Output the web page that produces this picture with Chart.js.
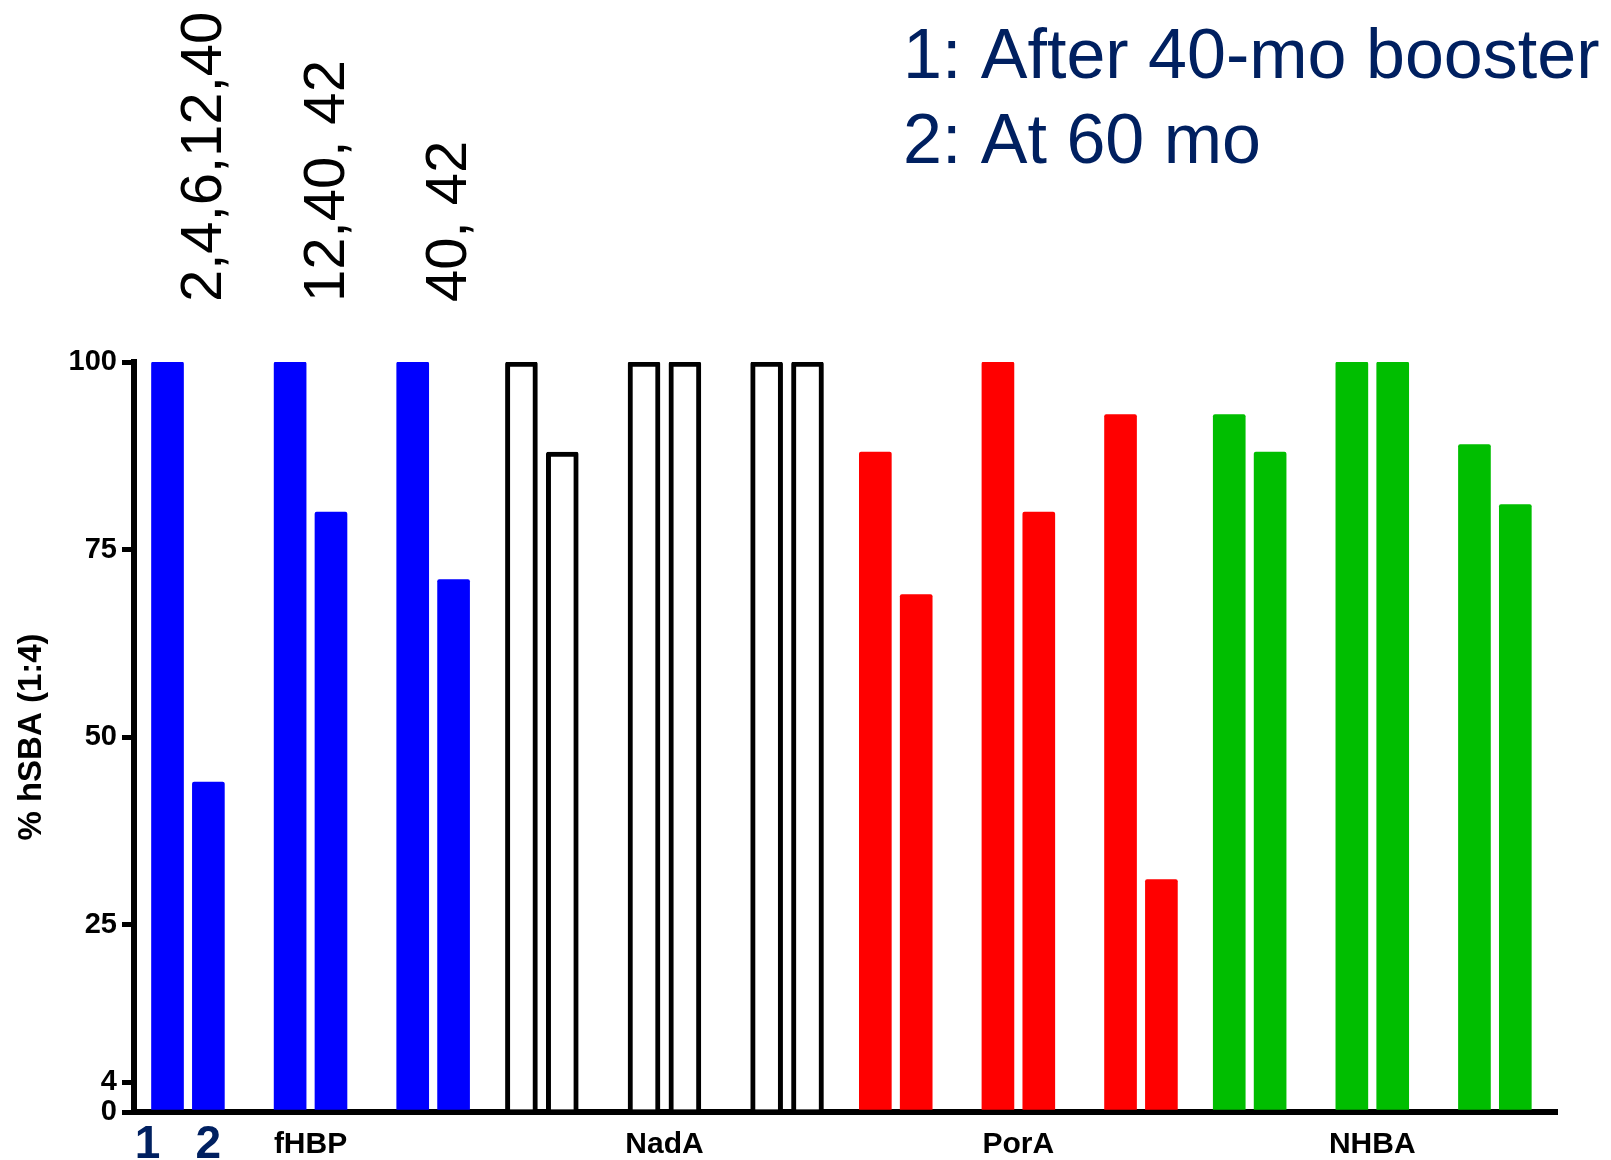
<!DOCTYPE html>
<html>
<head>
<meta charset="utf-8">
<script src="https://cdn.jsdelivr.net/npm/chart.js@4/dist/chart.umd.min.js"></script>
<style>
  html, body { margin: 0; padding: 0; background: #ffffff; }
  canvas { display: block; }
</style>
</head>
<body>
<canvas id="chart" width="1611" height="1160"></canvas>
<script>
// ---- data ----
const antigenLabels = ['fHBP', 'NadA', 'PorA', 'NHBA'];
const timepointLabels = ['1', '2'];
const scheduleLabels = ['2,4,6,12,40', '12,40, 42', '40, 42'];
const legendLines = ['1: After 40-mo booster', '2: At 60 mo'];
const yTickValues = [0, 4, 25, 50, 75, 100];

// % with hSBA titre >= 1:4; pairs of (timepoint 1, timepoint 2) for each schedule
const fhbpPct = [100, 44, 100, 80, 100, 71];
const nadaPct = [100, 88, 100, 100, 100, 100];
const poraPct = [88, 69, 100, 80, 93, 31];
const nhbaPct = [93, 88, 100, 100, 89, 81];

// ---- layout ----
const FONT = "'Liberation Sans', Arial, sans-serif";
const NAVY = '#002060';
const GROUP_STEP = 3;       // distance between schedule groups (in bar pitches)
const ANTIGEN_STEP = 8.66;  // distance between antigen blocks
const X_MIN = -0.82, X_MAX = 34.0;

function barX(a, i) {
  return a * ANTIGEN_STEP + Math.floor(i / 2) * GROUP_STEP + (i % 2);
}
function groupCenter(a, g) {
  return a * ANTIGEN_STEP + g * GROUP_STEP + 0.5;
}

const series = [fhbpPct, nadaPct, poraPct, nhbaPct];
const barStyles = [
  { backgroundColor: '#0000ff', borderWidth: 0 },
  { backgroundColor: '#ffffff', borderColor: '#000000', borderWidth: 5 },
  { backgroundColor: '#ff0000', borderWidth: 0 },
  { backgroundColor: '#00be00', borderWidth: 0 }
];

const datasets = series.map((vals, a) => Object.assign({
  label: antigenLabels[a],
  data: vals.map((v, i) => ({ x: barX(a, i), y: v })),
  grouped: false,
  barThickness: 32,
  borderSkipped: 'start',
  borderRadius: { topLeft: 2, topRight: 2, bottomLeft: 0, bottomRight: 0 }
}, barStyles[a]));

// Text drawn around the plot: timepoint keys, antigen names, schedules, key
const annotations = {
  id: 'annotations',
  afterDraw(chart) {
    const ctx = chart.ctx;
    const xs = chart.scales.x;
    const area = chart.chartArea;
    ctx.save();

    // timepoint keys under the first pair of bars
    ctx.fillStyle = NAVY;
    ctx.font = 'bold 46px ' + FONT;
    ctx.textAlign = 'center';
    ctx.textBaseline = 'alphabetic';
    ctx.fillText(timepointLabels[0], xs.getPixelForValue(barX(0, 0)) - 20, area.bottom + 46);
    ctx.fillText(timepointLabels[1], xs.getPixelForValue(barX(0, 1)), area.bottom + 46);

    // antigen names under the middle schedule of each block
    ctx.fillStyle = '#000000';
    ctx.font = 'bold 30px ' + FONT;
    antigenLabels.forEach((name, a) => {
      ctx.fillText(name, xs.getPixelForValue(groupCenter(a, 1)), area.bottom + 41);
    });

    // vaccination schedules, written vertically above the first block
    ctx.font = '58px ' + FONT;
    ctx.textAlign = 'left';
    ctx.textBaseline = 'middle';
    scheduleLabels.forEach((txt, g) => {
      ctx.save();
      ctx.translate(xs.getPixelForValue(groupCenter(0, g)) + 17, area.top - 60);
      ctx.rotate(-Math.PI / 2);
      ctx.fillText(txt, 0, 0, 300);
      ctx.restore();
    });

    // key in the top right corner
    ctx.fillStyle = NAVY;
    ctx.font = '70px ' + FONT;
    ctx.textAlign = 'left';
    ctx.textBaseline = 'alphabetic';
    ctx.fillText(legendLines[0], 903, 78);
    ctx.fillText(legendLines[1], 903, 163);

    ctx.restore();
  }
};

new Chart(document.getElementById('chart'), {
  type: 'bar',
  data: { datasets },
  options: {
    responsive: false,
    animation: false,
    devicePixelRatio: 1,
    layout: { padding: { left: 0, top: 362, right: 54, bottom: 0 } },
    plugins: {
      legend: { display: false },
      tooltip: { enabled: false }
    },
    scales: {
      x: {
        type: 'linear',
        min: X_MIN,
        max: X_MAX,
        offset: false,
        z: 1,
        ticks: { display: false },
        grid: { display: false },
        border: { display: true, width: 6, color: '#000000' },
        afterFit(scale) { scale.height = 48; }
      },
      y: {
        min: 0,
        max: 100,
        afterBuildTicks(scale) { scale.ticks = yTickValues.map(v => ({ value: v })); },
        ticks: {
          autoSkip: false,
          color: '#000000',
          padding: 5,
          font: { family: FONT, weight: 'bold', size: 29 }
        },
        grid: {
          drawOnChartArea: false,
          drawTicks: true,
          tickLength: 12,
          tickWidth: 5,
          tickColor: '#000000',
          color: '#000000',
          lineWidth: 5
        },
        border: { display: true, width: 6, color: '#000000' },
        title: {
          display: true,
          text: '% hSBA (1:4)',
          color: '#000000',
          font: { family: FONT, weight: 'bold', size: 33 },
          padding: { top: 12, bottom: 0 }
        },
        afterFit(scale) { scale.width = 134; }
      }
    }
  },
  plugins: [annotations]
});
</script>
</body>
</html>
